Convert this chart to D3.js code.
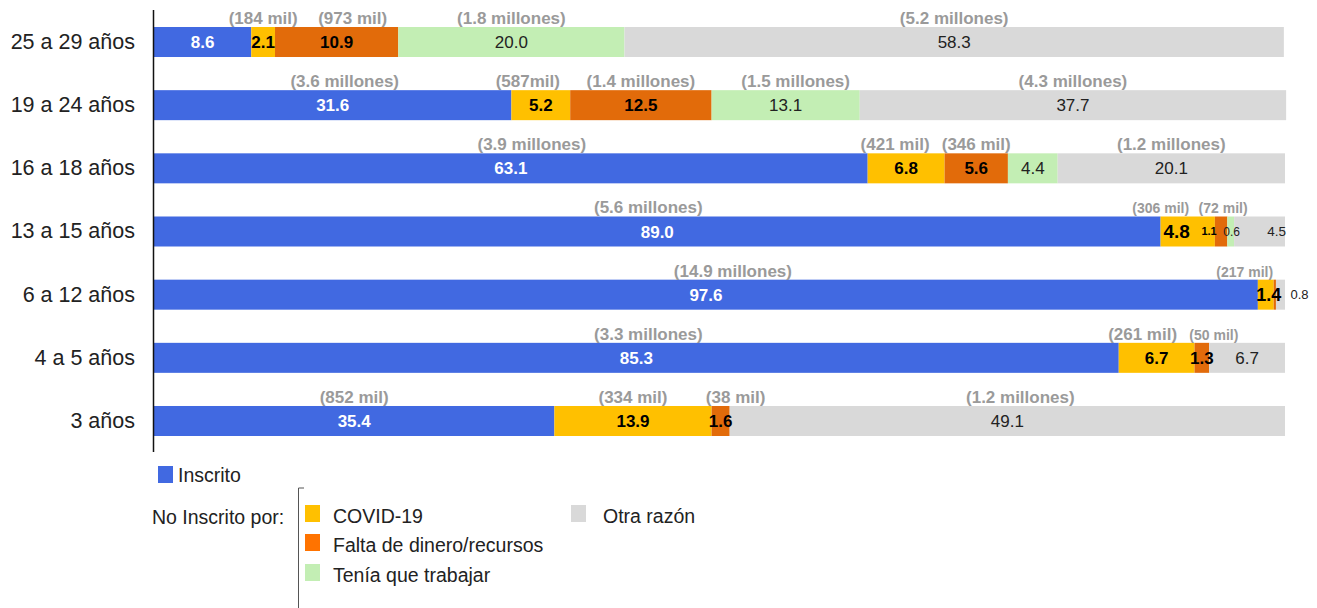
<!DOCTYPE html>
<html>
<head>
<meta charset="utf-8">
<script src="https://cdn.jsdelivr.net/npm/d3@7"></script>
<style>
  body { margin: 0; background: #fff; }
  svg { font-family: "Liberation Sans", Arial, sans-serif; }
</style>
</head>
<body>
<script>
// categories, top to bottom
const categories = ["25 a 29 años", "19 a 24 años", "16 a 18 años", "13 a 15 años", "6 a 12 años", "4 a 5 años", "3 años"];

// percentages
const inscrito = [8.6, 31.6, 63.1, 89.0, 97.6, 85.3, 35.4];
const covid = [2.1, 5.2, 6.8, 4.8, 1.4, 6.7, 13.9];
const falta = [10.9, 12.5, 5.6, 1.1, 0.2, 1.3, 1.6];
const trabajar = [20.0, 13.1, 4.4, 0.6, 0, 0, 0];
const otra = [58.3, 37.7, 20.1, 4.5, 0.8, 6.7, 49.1];

// people counts shown above the bars
const inscritoN = [null, "(3.6 millones)", "(3.9 millones)", "(5.6 millones)", "(14.9 millones)", "(3.3 millones)", "(852 mil)"];
const covidN = ["(184 mil)", "(587mil)", "(421 mil)", "(306 mil)", "(217 mil)", "(261 mil)", "(334 mil)"];
const faltaN = ["(973 mil)", "(1.4 millones)", "(346 mil)", "(72 mil)", null, "(50 mil)", "(38 mil)"];
const trabajarN = ["(1.8 millones)", "(1.5 millones)", null, null, null, null, null];
const otraN = ["(5.2 millones)", "(4.3 millones)", "(1.2 millones)", null, null, null, "(1.2 millones)"];

const legendNames = ["Inscrito", "COVID-19", "Falta de dinero/recursos", "Tenía que trabajar", "Otra razón"];

const w = 1317, h = 608;
const colors = ["#4169E1", "#FFC000", "#E26B0A", "#C3EEB4", "#D9D9D9"];
const legendColors = ["#4169E1", "#FFC000", "#FF7300", "#C3EEB4", "#D9D9D9"];

const series = [inscrito, covid, falta, trabajar, otra];
const counts = [inscritoN, covidN, faltaN, trabajarN, otraN];

// small nudges so labels don't collide (row-series) -> dx
const labelDx = { "3-1": -11, "3-2": -12, "3-3": 1, "3-4": 17, "4-1": 3, "4-4": 19 };
const labelSize = { "3-1": 19, "3-2": 11, "3-3": 12, "3-4": 13.5, "4-1": 18, "4-4": 13 };
const countDx = {
  "0-2": 16, "1-0": 12, "1-1": -13, "1-3": 10, "2-0": 21, "2-1": -11,
  "3-0": -9, "3-1": -27, "3-2": 2, "4-0": 27, "4-1": -21, "5-0": 12, "5-1": -14, "5-2": 12,
  "6-2": 15, "6-4": 13
};
const smallCounts = { "3-1": 1, "3-2": 1, "4-1": 1, "5-2": 1 };

const svg = d3.select("body").append("svg")
  .attr("width", w)
  .attr("height", h);

const x = d3.scaleLinear().domain([0, 100]).range([154, 1285]);
const y = d3.scaleBand().domain(categories).range([27, 436]).paddingInner(0.525).paddingOuter(0);

// stacked segments
const segs = [];
categories.forEach((c, i) => {
  let acc = 0;
  series.forEach((s, k) => {
    segs.push({ cat: c, row: i, k: k, v: s[i], x0: acc, x1: acc + s[i], n: counts[k][i] });
    acc += s[i];
  });
});

svg.append("g").selectAll("rect")
  .data(segs.filter(d => d.v > 0))
  .enter().append("rect")
  .attr("x", d => x(d.x0))
  .attr("y", d => y(d.cat))
  .attr("width", d => x(d.x1) - x(d.x0))
  .attr("height", y.bandwidth())
  .attr("fill", d => colors[d.k]);

// value labels
svg.append("g").selectAll("text")
  .data(segs.filter(d => d.v >= 0.5))
  .enter().append("text")
  .attr("x", d => (x(d.x0) + x(d.x1)) / 2 + (labelDx[d.row + "-" + d.k] || 0))
  .attr("y", d => y(d.cat) + y.bandwidth() / 2)
  .attr("dy", "0.36em")
  .attr("text-anchor", "middle")
  .style("font-size", d => (labelSize[d.row + "-" + d.k] || 17) + "px")
  .style("font-weight", d => d.k <= 2 ? "bold" : "normal")
  .attr("fill", d => d.k === 0 ? "#fff" : (d.k <= 2 ? "#000" : "#222"))
  .text(d => d.v.toFixed(1));

// counts above the bars
svg.append("g").selectAll("text")
  .data(segs.filter(d => d.n))
  .enter().append("text")
  .attr("x", d => (x(d.x0) + x(d.x1)) / 2 + (countDx[d.row + "-" + d.k] || 0))
  .attr("y", d => y(d.cat) - 3)
  .attr("text-anchor", "middle")
  .style("font-size", d => smallCounts[d.row + "-" + d.k] ? "14px" : "17px")
  .style("font-weight", "bold")
  .attr("fill", "#9a9a9a")
  .text(d => d.n);

// y axis
const yAxis = d3.axisLeft(y).tickSize(0).tickPadding(18);
const gy = svg.append("g")
  .attr("transform", "translate(153,0)")
  .call(yAxis);
gy.select(".domain").remove();
gy.selectAll("text")
  .style("font-size", "21.5px")
  .style("font-family", "Liberation Sans, Arial, sans-serif")
  .attr("fill", "#222");

svg.append("line")
  .attr("x1", 153.5).attr("x2", 153.5)
  .attr("y1", 10).attr("y2", 452)
  .attr("stroke", "#111").attr("stroke-width", 1.5);

// legend
const lg = svg.append("g").style("font-size", "19.5px").attr("fill", "#222");
lg.append("rect").attr("x", 158).attr("y", 466).attr("width", 15).attr("height", 17).attr("fill", legendColors[0]);
lg.append("text").attr("x", 178).attr("y", 482).text(legendNames[0]);

lg.append("text").attr("x", 152).attr("y", 524).text("No Inscrito por:");
lg.append("path")
  .attr("d", "M304,488 H298.5 V608")
  .attr("fill", "none").attr("stroke", "#555").attr("stroke-width", 1);

const items = [
  { i: 1, x: 305, y: 505 },
  { i: 2, x: 305, y: 534 },
  { i: 3, x: 305, y: 564 },
  { i: 4, x: 571, y: 505 }
];
items.forEach(it => {
  lg.append("rect").attr("x", it.x).attr("y", it.y).attr("width", 15).attr("height", 17).attr("fill", legendColors[it.i]);
  lg.append("text").attr("x", it.i === 4 ? 603 : 333).attr("y", it.y + 18).text(legendNames[it.i]);
});
</script>
</body>
</html>
